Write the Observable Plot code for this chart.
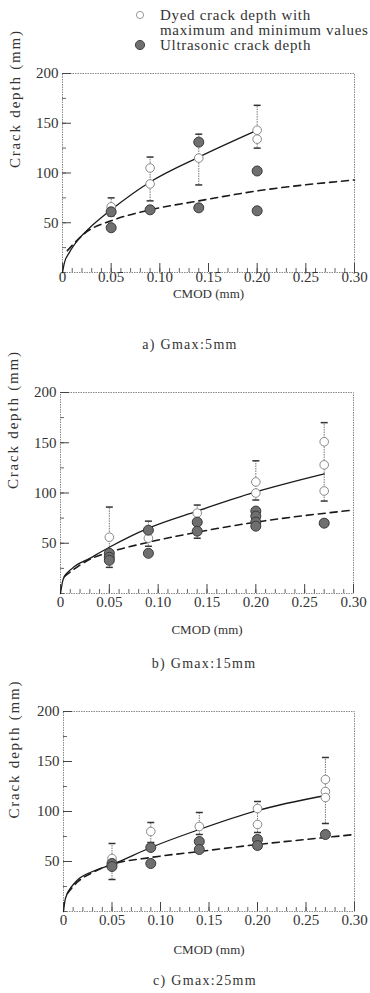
<!DOCTYPE html>
<html>
<head>
<meta charset="utf-8">
<script src="https://cdn.jsdelivr.net/npm/d3@7"></script>
<script src="https://cdn.jsdelivr.net/npm/@observablehq/plot@0.6"></script>
<style>
  html, body { margin: 0; padding: 0; background: #fff; }
  body { width: 370px; height: 993px; position: relative; overflow: hidden;
         font-family: "Liberation Serif", "Times New Roman", Times, serif; color: #333; }
  svg text { font-family: "Liberation Serif", "Times New Roman", Times, serif; }
  .abs { position: absolute; }
  .leg { position: absolute; left: 160px; font-size: 15px; letter-spacing: 0.7px; line-height: 15px; white-space: nowrap; }
  .cap { position: absolute; width: 220px; text-align: center; font-size: 14px; letter-spacing: 1.3px; line-height: 16px; white-space: nowrap; }
</style>
</head>
<body>
<div id="root"></div>
<script>
// ---------- data ----------
const xTickVals = [0, 0.05, 0.10, 0.15, 0.20, 0.25, 0.30];
const xTickText = ["0", "0.05", "0.10", "0.15", "0.20", "0.25", "0.30"];
const yTickVals = [50, 100, 150, 200];
const yTickText = ["50", "100", "150", "200"];
const captions = ["a) Gmax:5mm", "b) Gmax:15mm", "c) Gmax:25mm"];
const legendLabels = ["Dyed crack depth with", "maximum and minimum values", "Ultrasonic crack depth"];

// Panel a) Gmax 5mm  [CMOD, depth] / [CMOD, min, max]
const dyedA = [[0.05, 66], [0.09, 89], [0.09, 105], [0.14, 115], [0.20, 143], [0.20, 134]];
const rangeA = [[0.05, 57, 75], [0.09, 72, 116], [0.14, 88, 139], [0.20, 125, 168]];
const ultraA = [[0.05, 61], [0.05, 45], [0.09, 63], [0.14, 131], [0.14, 65], [0.20, 102], [0.20, 62]];
const fitDyedA = [[0, 0], [0.002, 10], [0.007, 20], [0.017, 34], [0.027, 44], [0.05, 63], [0.09, 91], [0.14, 116], [0.20, 143]];
const fitUltraA = [[0.005, 22], [0.025, 41], [0.05, 52], [0.09, 63], [0.14, 72], [0.20, 82], [0.30, 93]];

// Panel b) Gmax 15mm
const dyedB = [[0.05, 56], [0.09, 55], [0.14, 80], [0.20, 111], [0.20, 100], [0.27, 151], [0.27, 128], [0.27, 102]];
const rangeB = [[0.05, 26, 86], [0.09, 47, 72], [0.14, 55, 88], [0.20, 93, 132], [0.27, 92, 170]];
const ultraB = [[0.05, 40], [0.05, 36], [0.05, 33], [0.09, 63], [0.09, 40], [0.14, 71], [0.14, 62], [0.20, 82], [0.20, 77], [0.20, 71], [0.20, 67], [0.27, 70]];
const fitDyedB = [[0, 0], [0.003, 15], [0.012, 25], [0.03, 35], [0.05, 46], [0.09, 65], [0.14, 82], [0.20, 101], [0.27, 119]];
const fitUltraB = [[0.004, 17], [0.03, 34], [0.05, 41], [0.09, 51], [0.14, 61], [0.20, 71], [0.30, 83]];

// Panel c) Gmax 25mm
const dyedC = [[0.05, 53], [0.09, 80], [0.14, 85], [0.20, 103], [0.20, 87], [0.27, 132], [0.27, 120], [0.27, 114]];
const rangeC = [[0.05, 32, 68], [0.09, 69, 89], [0.14, 77, 99], [0.20, 79, 110], [0.27, 88, 154]];
const ultraC = [[0.05, 48], [0.05, 45], [0.09, 64], [0.09, 48], [0.14, 70], [0.14, 62], [0.20, 72], [0.20, 66], [0.27, 77]];
const fitDyedC = [[0, 0], [0.002, 13], [0.012, 29], [0.03, 40], [0.05, 47], [0.09, 64], [0.14, 82], [0.20, 101], [0.27, 116]];
const fitUltraC = [[0.004, 18], [0.015, 30], [0.03, 39], [0.05, 47], [0.09, 54], [0.14, 60], [0.20, 67], [0.27, 74], [0.30, 77]];

// ---------- layout ----------
const layouts = [
  {top: 63, mt: 10, fh: 199, ml: 62, mr: 16, tickDy: 9, xlDy: 25, ylDx: -47, ylDy: -5, capX: 190, capY: 345},
  {top: 382, mt: 10, fh: 201, ml: 60, mr: 17, tickDy: 13, xlDy: 40, ylDx: -47, ylDy: -4, capX: 204, capY: 664},
  {top: 701, mt: 10, fh: 200, ml: 63, mr: 16, tickDy: 13, xlDy: 42, ylDx: -49, ylDy: 7, capX: 205, capY: 981}
];
const panels = [
  [dyedA, rangeA, ultraA, fitDyedA, fitUltraA],
  [dyedB, rangeB, ultraB, fitDyedB, fitUltraB],
  [dyedC, rangeC, ultraC, fitDyedC, fitUltraC]
];

const hline = {draw(ctx, size) { const r = Math.sqrt(size / Math.PI); ctx.moveTo(-r, 0); ctx.lineTo(r, 0); }};
const xMinor = d3.range(0, 0.3001, 0.01);
const yMinor = d3.range(0, 200.1, 25);
const serif = "'Liberation Serif', 'Times New Roman', Times, serif";

const root = document.getElementById("root");

// legend
const legSvg = `<svg class="abs" style="left:0;top:0" width="370" height="58">
  <circle cx="140" cy="15" r="3.6" fill="#fff" stroke="#999" stroke-width="1"/>
  <circle cx="140" cy="45" r="4.6" fill="#6f6f6f" stroke="#444" stroke-width="1"/>
</svg>`;
root.insertAdjacentHTML("beforeend", legSvg);
[8, 23, 38].forEach((t, i) => {
  const d = document.createElement("div");
  d.className = "leg"; d.style.top = t + "px"; d.textContent = legendLabels[i];
  root.appendChild(d);
});

layouts.forEach((L, i) => {
  const [dyed, range, ultra, fitDyed, fitUltra] = panels[i];
  const mb = 60;
  const height = L.mt + L.fh + mb;
  const pw = 370 - L.ml - L.mr;
  const chart = Plot.plot({
    width: 370, height,
    marginLeft: L.ml, marginRight: L.mr, marginTop: L.mt, marginBottom: mb,
    style: {fontFamily: serif, fontSize: "15px", color: "#333", background: "transparent", overflow: "visible"},
    x: {domain: [0, 0.3], axis: null},
    y: {domain: [0, 200], axis: null},
    marks: [
      Plot.frame({stroke: "#888", strokeDasharray: "1.5,1"}),
      Plot.tickX(xMinor, {x: d => d, insetTop: L.fh - 4, stroke: "#666"}),
      Plot.tickX(xTickVals, {x: d => d, insetTop: L.fh - 9, stroke: "#444"}),
      Plot.tickY(yMinor, {y: d => d, insetRight: pw - 4, stroke: "#666"}),
      Plot.tickY(yTickVals, {y: d => d, insetRight: pw - 9, stroke: "#444"}),
      Plot.text(xTickVals, {x: d => d, text: (d, j) => xTickText[j], frameAnchor: "bottom", dy: L.tickDy, fill: "#333", fontFamily: serif}),
      Plot.text(yTickVals, {y: d => d, text: (d, j) => yTickText[j], frameAnchor: "left", dx: -4, textAnchor: "end", fill: "#333", fontFamily: serif}),
      Plot.text(["CMOD (mm)"], {frameAnchor: "bottom", dy: L.xlDy, fontSize: 13, fill: "#333", fontFamily: serif}),
      Plot.text(["Crack depth (mm)"], {frameAnchor: "left", dx: L.ylDx, dy: L.ylDy, rotate: -90, fontSize: 15, fill: "#333", fontFamily: serif}),
      Plot.ruleX(range, {x: d => d[0], y1: d => d[1], y2: d => d[2], stroke: "#777", strokeWidth: 1, strokeDasharray: "1.5,1"}),
      Plot.dot(range, {x: d => d[0], y: d => d[1], symbol: hline, r: 3.5, stroke: "#333", fill: "none"}),
      Plot.dot(range, {x: d => d[0], y: d => d[2], symbol: hline, r: 3.5, stroke: "#333", fill: "none"}),
      Plot.line(fitDyed, {x: d => d[0], y: d => d[1], curve: "monotone-x", stroke: "#1a1a1a", strokeWidth: 1.3}),
      Plot.line(fitUltra, {x: d => d[0], y: d => d[1], curve: "monotone-x", stroke: "#1a1a1a", strokeWidth: 1.6, strokeDasharray: "7,5"}),
      Plot.dot(dyed, {x: d => d[0], y: d => d[1], r: 4.3, fill: "#fff", stroke: "#888", strokeWidth: 1}),
      Plot.dot(ultra, {x: d => d[0], y: d => d[1], r: 5, fill: "#6f6f6f", stroke: "#3a3a3a", strokeWidth: 1})
    ]
  });
  chart.style.position = "absolute";
  chart.style.left = "0px";
  chart.style.top = L.top + "px";
  root.appendChild(chart);
  // caption
  const c = document.createElement("div");
  c.className = "cap";
  c.style.left = (L.capX - 110) + "px";
  c.style.top = (L.capY - 8) + "px";
  c.textContent = captions[i];
  root.appendChild(c);
});
// letter-spacing for rotated y label
document.querySelectorAll("svg text").forEach(t => {
  if (t.textContent === "Crack depth (mm)") t.setAttribute("letter-spacing", "1.8");
});
</script>
</body>
</html>
